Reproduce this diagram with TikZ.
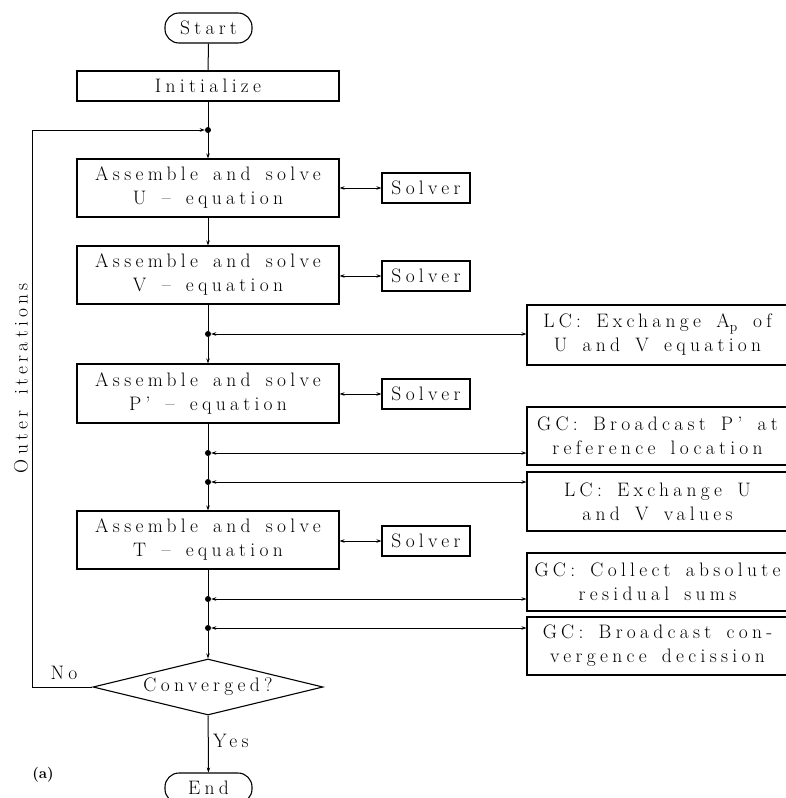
\documentclass[tikz,border=0pt]{standalone}
\usepackage{fontspec}
\setmainfont{Latin Modern Roman}[LetterSpace=22,WordSpace=1.5]
\usetikzlibrary{shapes.geometric,arrows.meta}
\begin{document}
\begin{tikzpicture}[x=1pt,y=-1pt,
  every node/.style={font=\fontsize{19.5}{24}\selectfont},
  box/.style={draw,line width=1.1pt,rectangle,inner sep=0pt,align=center,minimum width=262pt,minimum height=58pt},
  solverbox/.style={draw,line width=1.1pt,rectangle,inner sep=0pt,minimum width=88pt,minimum height=30pt},
  combox/.style={draw,line width=1.1pt,rectangle,inner sep=0pt,align=center,minimum width=261pt,minimum height=58pt},
  term/.style={draw,line width=1.1pt,rectangle,rounded corners=14pt,inner sep=0pt,minimum width=87pt,minimum height=30pt},
  dec/.style={draw,line width=1.1pt,diamond,aspect=4.1,inner sep=0pt,minimum width=230pt,minimum height=56pt},
  jdot/.style={circle,fill,inner sep=0pt,minimum size=6pt},
  flow/.style={line width=1pt,-{Stealth[length=5pt,width=3.5pt]}},
  both/.style={line width=1pt,{Stealth[length=5pt,width=3.5pt]}-{Stealth[length=5pt,width=3.5pt]}},
  line/.style={line width=1pt}]
\useasboundingbox (0,0) rectangle (785,798);
\fill[white] (0,0) rectangle (785,798);

\node[term] (start) at (208.5,28) {Start};
\node[box,minimum height=30pt] (init) at (208,86) {Initialize};
\coordinate (j0) at (208,130);
\node[box] (U) at (208,188) {Assemble and solve\\U – equation};
\node[solverbox] (sU) at (426,188) {Solver};
\node[box] (V) at (208,275) {Assemble and solve\\V – equation};
\node[solverbox] (sV) at (426,276) {Solver};
\node[jdot] (j1) at (208,334) {};
\node[combox,minimum height=60pt] (lc1) at (657.5,335) {LC: Exchange A$_\mathrm{p}$ of\\U and V equation};
\node[box,minimum height=59pt] (P) at (208,393.5) {Assemble and solve\\P' – equation};
\node[solverbox] (sP) at (426,394) {Solver};
\node[jdot] (j2) at (208,453) {};
\node[combox] (gc1) at (657.5,436) {GC: Broadcast P' at\\reference location};
\node[jdot] (j3) at (208,482) {};
\node[combox,minimum height=59pt] (lc2) at (657.5,501.5) {LC: Exchange U\\and V values};
\node[box] (T) at (208,540) {Assemble and solve\\T – equation};
\node[solverbox] (sT) at (426,541) {Solver};
\node[jdot] (j4) at (208,599) {};
\node[combox] (gc2) at (657.5,582) {GC: Collect absolute\\residual sums};
\node[jdot] (j5) at (208,628) {};
\node[combox] (gc3) at (657.5,646) {GC: Broadcast con-\\vergence decission};
\node[dec] (conv) at (208,687) {Converged?};
\node[term] (end) at (208.5,788) {End};
\node[jdot] (j0d) at (j0) {};
\coordinate (lb) at (32,687);
\coordinate (lt) at (32,130);

\draw[line] (start) -- (init);
\draw[line] (init) -- (j0);
\draw[flow] (j0) -- (U);
\draw[flow] (U) -- (V);
\draw[line] (V) -- (j1);
\draw[flow] (j1) -- (P);
\draw[line] (P) -- (j2) -- (j3);
\draw[flow] (j3) -- (T);
\draw[line] (T) -- (j4) -- (j5);
\draw[flow] (j5) -- (conv);
\draw[flow] (conv) -- node[right,pos=0.45,xshift=1pt] {Yes} (end);
\draw[line] (conv.west) -- (lb) -- (lt);
\draw[flow] (lt) -- (j0d);
\node at (64,673) {No};

\draw[both] (U.east) -- (sU.west);
\draw[both] (V.east |- sV.west) -- (sV.west);
\draw[both] (P.east |- sP.west) -- (sP.west);
\draw[both] (T.east |- sT.west) -- (sT.west);

\draw[both] (j1) -- (j1 -| lc1.west);
\draw[both] (j2) -- (j2 -| gc1.west);
\draw[both] (j3) -- (j3 -| lc2.west);
\draw[both] (j4) -- (j4 -| gc2.west);
\draw[both] (j5) -- (j5 -| gc3.west);

\node[rotate=90] (outer) at (21,378) {Outer iterations};
\node[font=\bfseries\fontsize{15}{18}\selectfont\addfontfeatures{LetterSpace=0}] (lbl) at (43,775) {(a)};
\end{tikzpicture}
\end{document}
